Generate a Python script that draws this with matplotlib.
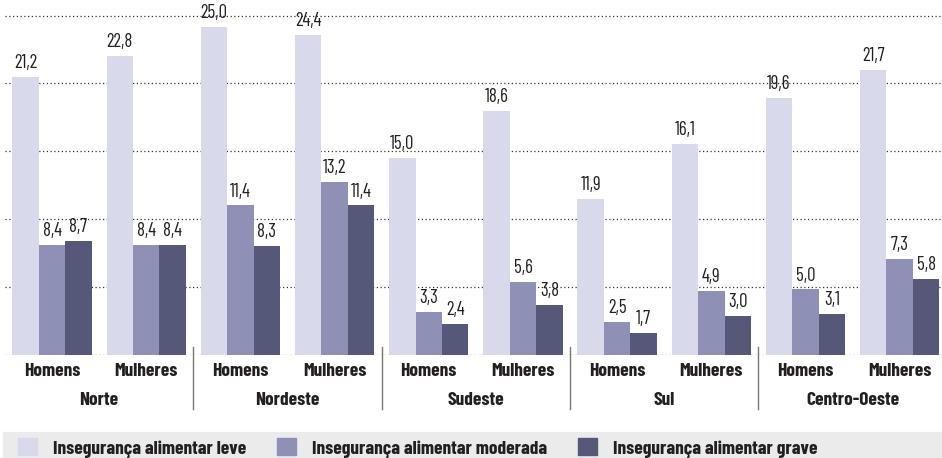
import matplotlib
matplotlib.use('Agg')
import matplotlib.pyplot as plt
from matplotlib.patches import Patch, Rectangle
import numpy as np

# Dados: insegurança alimentar por região e sexo (%)
regioes = ['Norte', 'Nordeste', 'Sudeste', 'Sul', 'Centro-Oeste']
sexos = ['Homens', 'Mulheres']
leve = [21.2, 22.8, 25.0, 24.4, 15.0, 18.6, 11.9, 16.1, 19.6, 21.7]
moderada = [8.4, 8.4, 11.4, 13.2, 3.3, 5.6, 2.5, 4.9, 5.0, 7.3]
grave = [8.7, 8.4, 8.3, 11.4, 2.4, 3.8, 1.7, 3.0, 3.1, 5.8]
series_nomes = ['Insegurança alimentar leve', 'Insegurança alimentar moderada',
                'Insegurança alimentar grave']
cores = ['#d9d9ec', '#8e90b5', '#555878']

plt.rcParams['font.family'] = ['Barlow Condensed', 'DejaVu Sans']
cor_texto = '#231f20'

fig = plt.figure(figsize=(9.42, 4.58), dpi=100)
ax = fig.add_axes([5 / 942, 103 / 458, 937 / 942, 345 / 458])

x = np.arange(len(leve))
larg = 0.281
for k, (vals, cor) in enumerate(zip([leve, moderada, grave], cores)):
    pos = x + (k - 1) * larg
    ax.bar(pos, vals, width=larg, color=cor, zorder=2)
    for p, v in zip(pos, vals):
        ax.annotate(f'{v:.1f}'.replace('.', ','), (p, v), xytext=(0, 3.5),
                    textcoords='offset points', ha='center', va='bottom',
                    fontsize=13.5, color=cor_texto, zorder=3)

ax.set_xlim(-0.5, 9.45)
ax.set_ylim(0, 26.3)
ax.set_yticks(np.arange(6) * 5.175)
ax.yaxis.grid(True, linestyle=(0, (1, 2)), color='#333333', linewidth=0.9)
ax.set_axisbelow(True)
ax.tick_params(left=False, bottom=False, labelleft=False, labelbottom=False)
for s in ax.spines.values():
    s.set_visible(False)

trans = ax.get_xaxis_transform()
for i in x:
    ax.text(i, -0.049, sexos[i % 2], transform=trans, ha='center', va='center',
            fontsize=14, fontweight='bold', color=cor_texto)
for j, r in enumerate(regioes):
    ax.text(2 * j + 0.5, -0.133, r, transform=trans, ha='center', va='center',
            fontsize=14, fontweight='bold', color=cor_texto)
    if j > 0:
        ax.plot([2 * j - 0.5, 2 * j - 0.5], [0.023, -0.157], transform=trans,
                color='#777777', lw=1, clip_on=False)

# faixa cinza da legenda
fig.add_artist(Rectangle((3 / 942, 0), 1, 26 / 458, transform=fig.transFigure,
                         color='#ebebeb', zorder=0))
handles = [Patch(color=c, label=n) for c, n in zip(cores, series_nomes)]
leg = fig.legend(handles=handles, loc='center left',
                 bbox_to_anchor=(18 / 942, 1 - 448 / 458), ncol=3, frameon=False,
                 fontsize=14, handlelength=0.97, handleheight=0.97,
                 handletextpad=0.82, columnspacing=1.6, borderpad=0,
                 borderaxespad=0)
for t in leg.get_texts():
    t.set_fontweight('bold')
    t.set_color(cor_texto)

fig.savefig('out.png', dpi=100)
